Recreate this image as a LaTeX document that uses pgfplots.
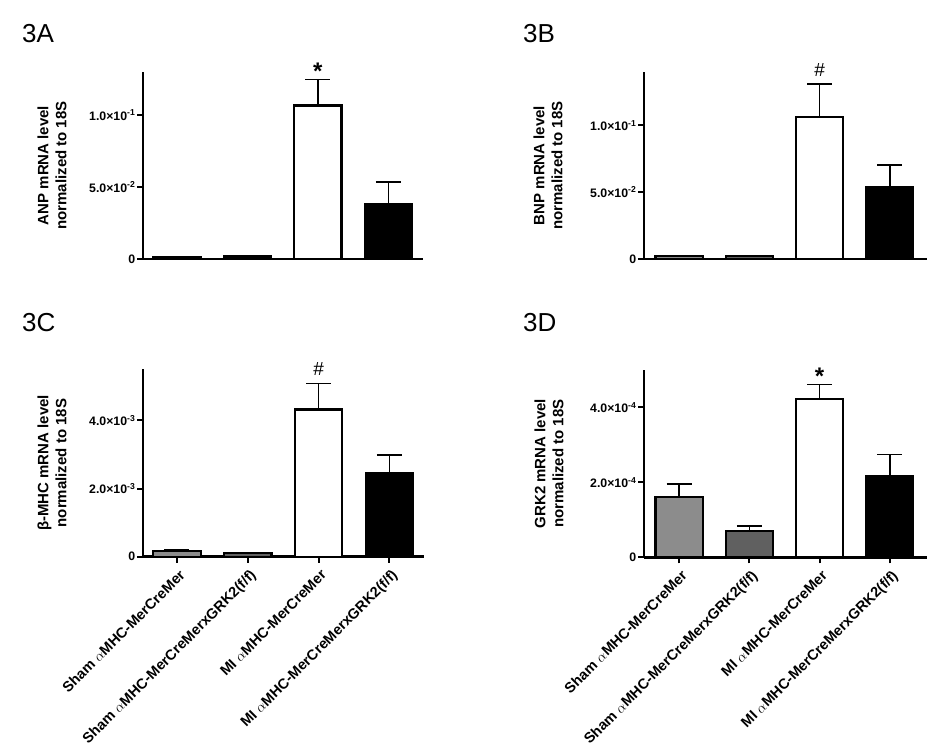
\documentclass[border=0pt]{standalone}
\usepackage{pgfplots}
\pgfplotsset{compat=1.18}
\usepackage{fontspec}
\setmainfont{Liberation Sans}
\definecolor{barA}{RGB}{140,140,140}
\definecolor{barB}{RGB}{96,96,96}
\newcommand\tl{\fontsize{12.3}{14}\selectfont\bfseries}
\newcommand\yl{\fontsize{15}{18}\selectfont\bfseries}
\newcommand\xl{\fontsize{14.5}{17}\selectfont\bfseries}
\newcommand\pl{\fontsize{26}{30}\selectfont}
\pgfplotsset{
  panel/.style={scale only axis, axis lines*=left,
    axis line style={line width=2.5pt},
    ymin=0, clip=false, scaled y ticks=false,
    tick align=outside, major tick length=6pt,
    y tick style={line width=2pt, black},
    x tick style={line width=2pt, black},
    yticklabel style={font=\tl, inner sep=1.5pt},
    ylabel style={rotate=0, anchor=center, align=center, font=\yl},
  },
  mybar/.style={ybar, bar shift=0pt, bar width=0.67, draw=black, line width=2.2pt, fill=#1,
    error bars/y dir=plus, error bars/y explicit,
    error bars/error bar style={line width=1.6pt, black},
    error bars/error mark options={line width=1.6pt, mark size=12.5pt, black, rotate=90}},
  xlab/.style={xtick={0,1,2,3},
    xticklabels={Sham $\alpha$MHC-MerCreMer, Sham $\alpha$MHC-MerCreMerxGRK2(f/f), MI $\alpha$MHC-MerCreMer, MI $\alpha$MHC-MerCreMerxGRK2(f/f)},
    xticklabel style={rotate=45, anchor=north east, font=\xl, inner sep=1pt, xshift=-2pt, yshift=-4pt}},
}
\begin{document}
\begin{tikzpicture}
\useasboundingbox (0pt,0pt) rectangle (950pt,752pt);
\node[anchor=base west, font=\pl, inner sep=0] at (22pt,709pt) {3A};
\node[anchor=base west, font=\pl, inner sep=0] at (523pt,709pt) {3B};
\node[anchor=base west, font=\pl, inner sep=0] at (22pt,420pt) {3C};
\node[anchor=base west, font=\pl, inner sep=0] at (523pt,420pt) {3D};

% 3A
\begin{axis}[panel, at={(143pt,493pt)}, anchor=south west, width=280pt, height=187pt,
  xmin=-0.48, xmax=3.49, ymax=0.13, xtick=\empty,
  ytick={0,0.05,0.1}, yticklabels={0, 5.0×10\textsuperscript{-2}, 1.0×10\textsuperscript{-1}},
  ylabel={ANP mRNA level\\normalized to 18S},
  ylabel style={at={(axis description cs:-0.325,0.5)}}]
\addplot[mybar=barA] coordinates {(0,0.0012) +- (0,0.0003)};
\addplot[mybar=barB] coordinates {(1,0.0018) +- (0,0.0004)};
\addplot[mybar=white] coordinates {(2,0.1067) +- (0,0.0181)};
\addplot[mybar=black] coordinates {(3,0.0384) +- (0,0.0153)};
\node[anchor=south, inner sep=0, font=\fontsize{24}{24}\selectfont\bfseries] at (axis cs:2,0.1248) {*};
\end{axis}

% 3B
\begin{axis}[panel, at={(644pt,493pt)}, anchor=south west, width=283pt, height=187pt,
  xmin=-0.50, xmax=3.53, ymax=0.14, xtick=\empty,
  ytick={0,0.05,0.1}, yticklabels={0, 5.0×10\textsuperscript{-2}, 1.0×10\textsuperscript{-1}},
  ylabel={BNP mRNA level\\normalized to 18S},
  ylabel style={at={(axis description cs:-0.339,0.5)}}]
\addplot[mybar=barA] coordinates {(0,0.0020) +- (0,0.0003)};
\addplot[mybar=barB] coordinates {(1,0.0020) +- (0,0.0003)};
\addplot[mybar=white] coordinates {(2,0.1063) +- (0,0.0247)};
\addplot[mybar=black] coordinates {(3,0.0535) +- (0,0.0170)};
\node[anchor=south, inner sep=0, yshift=7pt, font=\fontsize{19}{19}\selectfont] at (axis cs:2,0.1310) {\#};
\end{axis}

% 3C
\begin{axis}[panel, xlab, at={(143pt,195.3pt)}, anchor=south west, width=281pt, height=187.4pt,
  xmin=-0.48, xmax=3.49, ymax=0.0055,
  ytick={0,0.002,0.004}, yticklabels={0, 2.0×10\textsuperscript{-3}, 4.0×10\textsuperscript{-3}},
  ylabel={β-MHC mRNA level\\normalized to 18S},
  ylabel style={at={(axis description cs:-0.324,0.5)}}]
\addplot[mybar=barA] coordinates {(0,0.00017) +- (0,0.00003)};
\addplot[mybar=barB] coordinates {(1,0.00010) +- (0,0.00002)};
\addplot[mybar=white] coordinates {(2,0.00432) +- (0,0.00076)};
\addplot[mybar=black] coordinates {(3,0.00246) +- (0,0.00053)};
\node[anchor=south, inner sep=0, yshift=8pt, font=\fontsize{19}{19}\selectfont] at (axis cs:2,0.00508) {\#};
\end{axis}

% 3D
\begin{axis}[panel, xlab, at={(644pt,194.7pt)}, anchor=south west, width=283pt, height=187.3pt,
  xmin=-0.50, xmax=3.53, ymax=0.0005,
  ytick={0,0.0002,0.0004}, yticklabels={0, 2.0×10\textsuperscript{-4}, 4.0×10\textsuperscript{-4}},
  ylabel={GRK2 mRNA level\\normalized to 18S},
  ylabel style={at={(axis description cs:-0.336,0.5)}}]
\addplot[mybar=barA] coordinates {(0,0.000160) +- (0,0.000036)};
\addplot[mybar=barB] coordinates {(1,0.0000703) +- (0,0.0000134)};
\addplot[mybar=white] coordinates {(2,0.000423) +- (0,0.000038)};
\addplot[mybar=black] coordinates {(3,0.0002155) +- (0,0.0000585)};
\node[anchor=south, inner sep=0, font=\fontsize{24}{24}\selectfont\bfseries] at (axis cs:2,0.000461) {*};
\end{axis}
\end{tikzpicture}
\end{document}
